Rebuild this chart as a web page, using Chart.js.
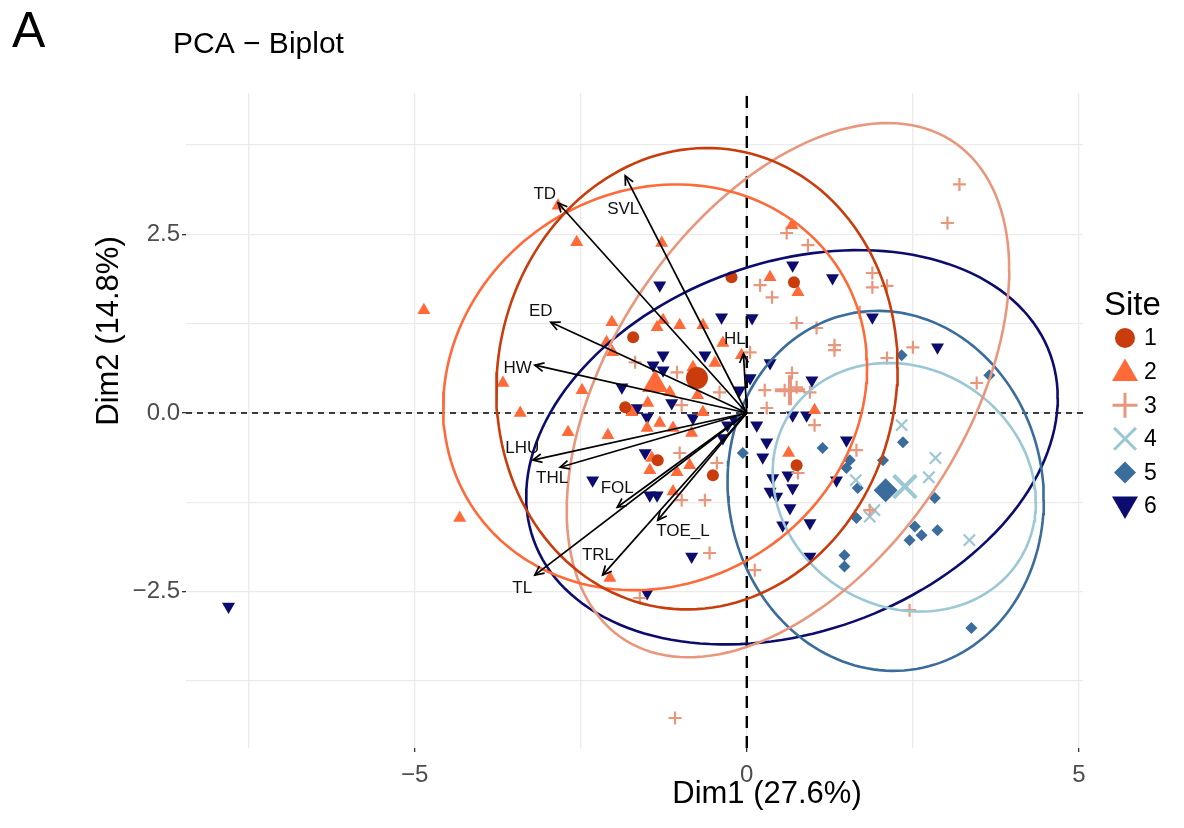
<!DOCTYPE html>
<html lang="en">
<head>
<meta charset="UTF-8">
<title>PCA - Biplot</title>
<script src="https://cdn.jsdelivr.net/npm/chart.js"></script>
<style>
  body { margin: 0; background: #fff; }
  #wrap { width: 1184px; height: 828px; }
</style>
</head>
<body>
<div id="wrap"><canvas id="myChart"></canvas></div>
<script>
// ---- data ----
const siteNames = ['1', '2', '3', '4', '5', '6'];
const siteColors = ['#C93C0C', '#FF6A38', '#E9977C', '#9CC7D4', '#3A6C9C', '#0C0C6E'];
const siteStyles = ['circle', 'triangle', 'cross', 'crossRot', 'rectRot', 'triangle'];
const siteRotation = [0, 0, 0, 0, 0, 180];

const site1 = [[-0.23,1.90],[0.71,1.83],[-1.71,1.06],[-1.83,0.08],[-1.34,-0.66],[-0.51,-0.87],[0.75,-0.73]];
const site2 = [[-2.84,2.90],[-2.56,2.39],[-4.86,1.44],[-3.67,0.42],[-3.41,0.00],[-2.69,-0.27],[-4.32,-1.47],
  [0.68,2.63],[-1.28,2.38],[0.35,1.90],[0.77,1.69],[-2.03,1.27],[-1.35,1.20],[-1.26,1.30],[-1.01,1.23],
  [-0.66,1.23],[-0.36,0.98],[-2.11,0.99],[-2.02,0.85],[-0.81,0.64],[-0.48,0.70],[-0.08,0.81],[-2.48,0.32],
  [-1.16,0.29],[-0.74,0.25],[-1.49,0.14],[-1.73,0.01],[-0.66,0.01],[-2.09,-0.31],[-1.50,-0.21],[-1.11,-0.21],
  [-0.83,-0.28],[-1.31,-0.14],[-1.43,-0.63],[-1.46,-0.80],[-1.05,-0.83],[-0.86,-0.73],[-1.11,-1.10],
  [-2.06,-2.31],[0.63,-0.56],[1.02,0.04]];
const site3 = [[3.20,3.20],[3.02,2.66],[0.60,2.52],[0.92,2.35],[1.89,1.96],[1.89,1.76],[2.11,1.78],[0.20,1.79],
  [0.38,1.62],[1.70,1.41],[0.75,1.26],[1.05,1.19],[1.32,0.95],[1.32,0.88],[2.50,0.92],[2.11,0.77],[3.46,0.42],
  [-1.68,0.71],[-1.05,0.57],[0.05,0.85],[0.68,0.56],[0.27,0.32],[0.57,0.32],[0.75,0.36],[0.95,0.29],
  [-0.41,0.29],[-0.98,0.11],[0.30,0.07],[1.02,-0.17],[1.65,-0.52],[0.77,-0.84],[1.85,-1.36],[0.12,-2.20],
  [2.45,-2.76],[-1.01,-0.56],[-0.45,-0.70],[-0.98,-1.22],[-0.63,-1.22],[-0.56,-1.96],[-1.61,-2.59],[-1.08,-4.27]];
const site4 = [[2.33,-0.17],[2.84,-0.63],[2.74,-0.90],[1.64,-0.94],[1.92,-1.36],[1.85,-1.45],[3.35,-1.78]];
const site5 = [[2.35,-0.41],[1.14,-0.49],[1.55,-0.66],[1.50,-0.77],[2.05,-0.66],[1.67,-1.05],[2.83,-1.19],
  [1.65,-1.47],[2.53,-1.59],[2.63,-1.71],[2.45,-1.78],[2.87,-1.64],[1.47,-1.99],[1.47,-2.15],[-0.06,-0.56],
  [3.38,-3.01],[2.33,0.81],[3.65,0.53]];
const site6 = [[-7.80,-2.71],[-1.31,1.79],[-0.38,1.34],[0.08,1.33],[0.69,2.07],[1.29,1.89],[1.89,1.34],[2.87,0.92],
  [-1.26,0.81],[-0.63,0.81],[-1.41,0.67],[-1.26,0.60],[-1.88,0.36],[-1.13,0.14],[-0.11,0.32],[0.05,0.49],
  [0.35,0.70],[0.98,0.46],[-1.65,0.07],[-1.50,-0.06],[-0.81,-0.07],[-0.36,-0.35],[0.69,-0.03],[0.90,-0.03],
  [0.15,-0.17],[0.30,-0.41],[1.50,-0.38],[0.24,-0.62],[0.39,-0.91],[0.62,-0.87],[0.69,-1.05],[1.35,-0.94],
  [0.35,-1.10],[0.45,-1.17],[0.65,-1.33],[0.54,-1.57],[0.95,-1.54],[0.95,-2.01],[-2.32,-0.94],[-1.53,-0.56],
  [-1.46,-1.15],[-1.35,-1.15],[-0.83,-2.01],[-1.50,-2.52],[-0.29,-0.17],[-0.18,-0.10]];
const sitePoints = [site1, site2, site3, site4, site5, site6];

// group means (site 6 mean not shown)
const centroids = [[-0.75,0.49],[-1.38,0.40],[0.65,0.32],[2.38,-1.03],[2.09,-1.08]];

// concentration ellipses: centre, half-width, half-height, correlation
const ellCx = [-0.75, -1.38, 0.62, 2.37, 2.09, 0.68];
const ellCy = [0.48, 0.36, 0.32, -1.04, -1.09, -0.48];
const ellW = [3.02, 3.19, 3.33, 1.98, 2.38, 4.00];
const ellH = [3.23, 2.84, 3.74, 1.74, 2.52, 2.76];
const ellR = [0.05, 0.10, 0.45, -0.12, -0.05, 0.25];

// variable arrows
const varNames = ['TD', 'SVL', 'ED', 'HW', 'HL', 'LHU', 'THL', 'FOL', 'TOE_L', 'TRL', 'TL'];
const varX = [-2.84, -1.83, -2.95, -3.19, -0.05, -3.22, -2.81, -1.95, -1.34, -2.17, -3.19];
const varY = [2.94, 3.32, 1.27, 0.67, 0.83, -0.66, -0.76, -1.32, -1.50, -2.27, -2.27];
const labelX = [-3.04, -1.86, -3.10, -3.45, -0.18, -3.38, -2.93, -1.95, -0.96, -2.24, -3.38];
const labelY = [3.06, 2.85, 1.43, 0.63, 1.03, -0.49, -0.91, -1.05, -1.66, -1.99, -2.46];

const xGrid = [-7.5, -5, -2.5, 0, 2.5, 5];
const yGrid = [-3.75, -2.5, -1.25, 0, 1.25, 2.5, 3.75];
const xLabels = { '-5': '\u22125', '0': '0', '5': '5' };
const yLabels = { '-2.5': '\u22122.5', '0': '0.0', '2.5': '2.5' };

// ---- chart ----
const FONT = '"Liberation Sans", Arial, Helvetica, sans-serif';
Chart.defaults.font.family = FONT;

const X_MIN = -8.44, X_MAX = 5.06, Y_MIN = -4.69, Y_MAX = 4.48;

function ellipsePoints(i) {
  const pts = [];
  const n = 160;
  const s = Math.sqrt(1 - ellR[i] * ellR[i]);
  for (let k = 0; k <= n; k++) {
    const t = 2 * Math.PI * k / n;
    pts.push({ x: ellCx[i] + ellW[i] * Math.cos(t),
               y: ellCy[i] + ellH[i] * (ellR[i] * Math.cos(t) + s * Math.sin(t)) });
  }
  return pts;
}

const datasets = [];

datasets.push({
  label: 'hline', data: [{ x: X_MIN, y: 0 }, { x: X_MAX, y: 0 }], clip: 0,
  showLine: true, pointRadius: 0, borderColor: '#000', borderWidth: 1.3, borderDash: [6, 5], order: 50
});
datasets.push({
  label: 'vline', data: [{ x: 0, y: Y_MIN }, { x: 0, y: Y_MAX }], clip: 0,
  showLine: true, pointRadius: 0, borderColor: '#000', borderWidth: 2.4, borderDash: [12, 8], order: 50
});

const pointRadius = [6, 7.5, 6.5, 8, 6, 7.5];
sitePoints.forEach((pts, i) => {
  datasets.push({
    label: siteNames[i],
    data: pts.map(p => ({ x: p[0], y: p[1] })),
    pointStyle: siteStyles[i],
    pointRotation: siteRotation[i],
    pointRadius: pointRadius[i],
    backgroundColor: siteColors[i],
    borderColor: siteColors[i],
    borderWidth: (i === 2 || i === 3) ? 2.2 : 0,
    order: 30
  });
});

siteNames.forEach((n, i) => {
  datasets.push({
    label: 'ell' + n, data: ellipsePoints(i), showLine: true, pointRadius: 0,
    borderColor: siteColors[i], borderWidth: 2.6, tension: 0, order: 25
  });
});

const centroidRadius = [11, 15, 15, 16, 12];
centroids.forEach((c, i) => {
  datasets.push({
    label: 'mean' + siteNames[i], data: [{ x: c[0], y: c[1] }],
    pointStyle: siteStyles[i], pointRotation: siteRotation[i], pointRadius: centroidRadius[i],
    backgroundColor: siteColors[i], borderColor: siteColors[i],
    borderWidth: (i === 2 || i === 3) ? 4 : 0, order: 20
  });
});

varNames.forEach((n, i) => {
  datasets.push({
    label: 'var' + n, data: [{ x: 0, y: 0 }, { x: varX[i], y: varY[i] }],
    showLine: true, pointRadius: 0, borderColor: '#000', borderWidth: 1.7, order: 10
  });
});

const overlay = {
  id: 'overlay',
  afterDatasetsDraw(chart) {
    const { ctx } = chart;
    const sx = chart.scales.x, sy = chart.scales.y;
    ctx.save();
    // arrow heads
    ctx.strokeStyle = '#000';
    ctx.lineWidth = 1.7;
    const x0 = sx.getPixelForValue(0), y0 = sy.getPixelForValue(0);
    varNames.forEach((n, i) => {
      const x1 = sx.getPixelForValue(varX[i]), y1 = sy.getPixelForValue(varY[i]);
      const a = Math.atan2(y1 - y0, x1 - x0);
      const L = 10, s = Math.PI / 7;
      ctx.beginPath();
      ctx.moveTo(x1 - L * Math.cos(a - s), y1 - L * Math.sin(a - s));
      ctx.lineTo(x1, y1);
      ctx.lineTo(x1 - L * Math.cos(a + s), y1 - L * Math.sin(a + s));
      ctx.stroke();
    });
    // variable labels
    ctx.fillStyle = '#111';
    ctx.font = '17px ' + FONT;
    ctx.textAlign = 'center';
    ctx.textBaseline = 'middle';
    varNames.forEach((n, i) => {
      ctx.fillText(n, sx.getPixelForValue(labelX[i]), sy.getPixelForValue(labelY[i]));
    });
    ctx.restore();
  },
  afterDraw(chart) {
    const { ctx } = chart;
    ctx.save();
    ctx.fillStyle = '#000';
    ctx.textAlign = 'left';
    ctx.textBaseline = 'alphabetic';
    ctx.font = '50px ' + FONT;
    ctx.fillText('A', 12, 47);
    ctx.font = '30px ' + FONT;
    ctx.fillText('PCA \u2212 Biplot', 173, 53);

    // axis titles
    ctx.font = '31px ' + FONT;
    ctx.textAlign = 'center';
    ctx.fillText('Dim1 (27.6%)', 767, 803);
    ctx.save();
    ctx.translate(118, 331);
    ctx.rotate(-Math.PI / 2);
    ctx.fillText('Dim2 (14.8%)', 0, 0);
    ctx.restore();

    // legend
    ctx.textAlign = 'left';
    ctx.font = '33px ' + FONT;
    ctx.fillText('Site', 1104, 315);
    const legR = [10, 15, 12.5, 15.5, 11, 15];
    ctx.font = '23px ' + FONT;
    ctx.textBaseline = 'middle';
    siteNames.forEach((n, i) => {
      const yy = 338 + i * 33.6;
      ctx.fillStyle = siteColors[i];
      ctx.strokeStyle = siteColors[i];
      ctx.lineWidth = (i === 2 || i === 3) ? 3 : 0;
      const opts = { pointStyle: siteStyles[i], rotation: siteRotation[i], radius: legR[i],
                     borderWidth: (i === 2 || i === 3) ? 3 : 0 };
      Chart.helpers.drawPoint(ctx, opts, 1125, i === 1 ? yy + 2 : (i === 5 ? yy - 2 : yy));
      ctx.fillStyle = '#000';
      ctx.fillText(n, 1144, yy + 1);
    });
    ctx.restore();
  }
};

new Chart(document.getElementById('myChart'), {
  type: 'scatter',
  data: { datasets },
  options: {
    responsive: true,
    maintainAspectRatio: false,
    animation: false,
    layout: { padding: { top: 93, right: 101, bottom: 0, left: 0 } },
    plugins: { legend: { display: false }, tooltip: { enabled: false } },
    scales: {
      x: {
        type: 'linear', min: X_MIN, max: X_MAX,
        afterBuildTicks: s => { s.ticks = xGrid.map(v => ({ value: v })); },
        afterFit: s => { s.height = 80; },
        border: { display: false },
        grid: {
          color: '#EBEBEB', lineWidth: 1.3, drawTicks: true, tickLength: 4, tickWidth: 1.3,
          tickColor: c => (c.tick && xLabels[String(c.tick.value)] !== undefined) ? '#333' : 'rgba(0,0,0,0)'
        },
        ticks: {
          autoSkip: false, maxRotation: 0, padding: 9, color: '#4D4D4D', font: { size: 24 },
          callback: v => xLabels[String(v)] || ''
        }
      },
      y: {
        type: 'linear', min: Y_MIN, max: Y_MAX,
        afterBuildTicks: s => { s.ticks = yGrid.map(v => ({ value: v })); },
        afterFit: s => { s.width = 186; },
        border: { display: false },
        grid: {
          color: '#EBEBEB', lineWidth: 1.3, drawTicks: true, tickLength: 4, tickWidth: 1.3,
          tickColor: c => (c.tick && yLabels[String(c.tick.value)] !== undefined) ? '#333' : 'rgba(0,0,0,0)'
        },
        ticks: {
          autoSkip: false, padding: 2, color: '#4D4D4D', font: { size: 24 },
          callback: v => yLabels[String(v)] || ''
        }
      }
    }
  },
  plugins: [overlay]
});
</script>
</body>
</html>
